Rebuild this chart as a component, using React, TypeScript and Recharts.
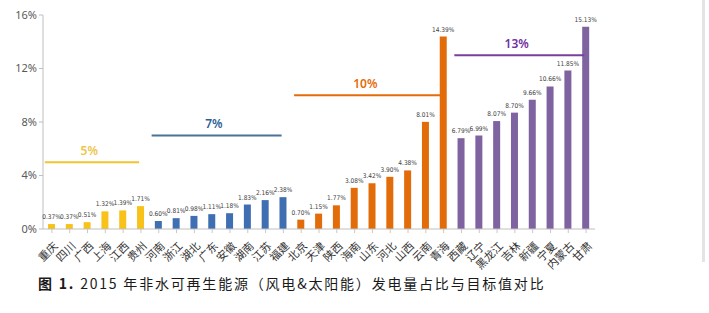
import React from "react";
import {
  BarChart,
  Bar,
  XAxis,
  YAxis,
  Cell,
  LabelList,
  ReferenceLine,
  ReferenceDot,
} from "recharts";

// 2015 non-hydro renewable share by province, grouped by 2020 target
const provinces = [
  "重庆", "四川", "广西", "上海", "江西", "贵州",
  "河南", "浙江", "湖北", "广东", "安徽", "湖南", "江苏", "福建",
  "北京", "天津", "陕西", "海南", "山东", "河北", "山西", "云南", "青海",
  "西藏", "辽宁", "黑龙江", "吉林", "新疆", "宁夏", "内蒙古", "甘肃",
];
const shares = [
  0.37, 0.37, 0.51, 1.32, 1.39, 1.71,
  0.6, 0.81, 0.98, 1.11, 1.18, 1.83, 2.16, 2.38,
  0.7, 1.15, 1.77, 3.08, 3.42, 3.9, 4.38, 8.01, 14.39,
  6.79, 6.99, 8.07, 8.7, 9.66, 10.66, 11.85, 15.13,
];
const targets = [5, 7, 10, 13];
const targetLabels = ["5%", "7%", "10%", "13%"];
const groupSizes = [6, 8, 9, 8];
const yTicks = [0, 4, 8, 12, 16];

const barColors = ["#F8C21A", "#3F6EB3", "#E36C0A", "#7F63A1"];
const lineColors = ["#F3C431", "#4A7396", "#E46C0A", "#7A3F99"];
const labelColors = ["#EEC548", "#2F6093", "#E46C0A", "#7030A0"];

const groupStarts = groupSizes.map((_, g) =>
  groupSizes.slice(0, g).reduce((a, b) => a + b, 0)
);
const groupOf = provinces.map((_, i) => {
  let g = 0;
  groupStarts.forEach((s, k) => {
    if (i >= s) g = k;
  });
  return g;
});

const data = provinces.map((name, i) => ({
  idx: i,
  name,
  share: shares[i],
  group: groupOf[i],
}));

const indices = provinces.map((_, i) => i);

function ProvinceTick(props: any) {
  const { x, y, payload } = props;
  const ax = x + 4;
  const ay = y + 9;
  return (
    <text
      x={ax}
      y={ay}
      dy="0.35em"
      textAnchor="end"
      transform={`rotate(-45, ${ax}, ${ay})`}
      fontSize={11}
      fontFamily="'Noto Sans CJK SC', sans-serif"
      fill="#333"
    >
      {provinces[payload.value]}
    </text>
  );
}

export default function App() {
  return (
    <div
      style={{
        position: "absolute",
        left: 0,
        top: 0,
        width: 709,
        height: 313,
        background: "#fff",
        overflow: "hidden",
      }}
    >
      <BarChart
        width={709}
        height={313}
        data={data}
        margin={{ top: 15, right: 114, bottom: 44, left: 0 }}
      >
        <XAxis
          type="number"
          dataKey="idx"
          domain={[-0.5, 30.5]}
          ticks={indices}
          interval={0}
          height={40}
          tick={<ProvinceTick />}
          tickSize={4}
          tickLine={{ stroke: "#C8C8C8" }}
          axisLine={{ stroke: "#BFBFBF" }}
        />
        <YAxis
          domain={[0, 16]}
          ticks={yTicks}
          width={43}
          tickSize={4}
          tickLine={{ stroke: "#BFBFBF" }}
          axisLine={{ stroke: "#BFBFBF" }}
          tickFormatter={(v) => `${v}%`}
          tick={{ fontSize: 11, fill: "#595959", fontFamily: "'Noto Sans', sans-serif" }}
        />
        <Bar dataKey="share" barSize={7} isAnimationActive={false}>
          {data.map((d) => (
            <Cell key={d.idx} fill={barColors[d.group]} />
          ))}
          <LabelList
            dataKey="share"
            position="top"
            offset={5}
            formatter={(v: any) => `${Number(v).toFixed(2)}%`}
            style={{
              fontSize: 6.5,
              fill: "#404040",
              fontFamily: "'Liberation Sans Narrow', 'DejaVu Sans Condensed', sans-serif",
            }}
          />
        </Bar>
        {targets.map((t, g) => {
          const start = groupStarts[g];
          const end = start + groupSizes[g] - 1;
          return (
            <ReferenceLine
              key={`line-${t}`}
              segment={[
                { x: start - 0.4, y: t },
                { x: end - 0.1, y: t },
              ]}
              stroke={lineColors[g]}
              strokeWidth={2}
            />
          );
        })}
        {targets.map((t, g) => {
          const mid = groupStarts[g] + (groupSizes[g] - 1) / 2 - 0.4;
          return (
            <ReferenceDot
              key={`lab-${t}`}
              x={mid}
              y={t}
              r={0}
              fill="none"
              stroke="none"
              label={{
                value: targetLabels[g],
                position: "top",
                offset: 7,
                fill: labelColors[g],
                fontSize: 12,
                fontWeight: 600,
                fontFamily: "'Noto Sans', sans-serif",
              }}
            />
          );
        })}
      </BarChart>
      <div
        style={{
          position: "absolute",
          left: 702,
          top: 0,
          width: 3,
          height: 262,
          background: "#E4E4E4",
        }}
      />
      <div
        style={{
          position: "absolute",
          left: 38,
          top: 273,
          fontSize: 14,
          color: "#1a1a1a",
          fontFamily: "'Noto Sans CJK SC', sans-serif",
          whiteSpace: "nowrap",
          letterSpacing: 1.8,
        }}
      >
        <b>图 1.</b> 2015 年非水可再生能源（风电&amp;太阳能）发电量占比与目标值对比
      </div>
    </div>
  );
}
